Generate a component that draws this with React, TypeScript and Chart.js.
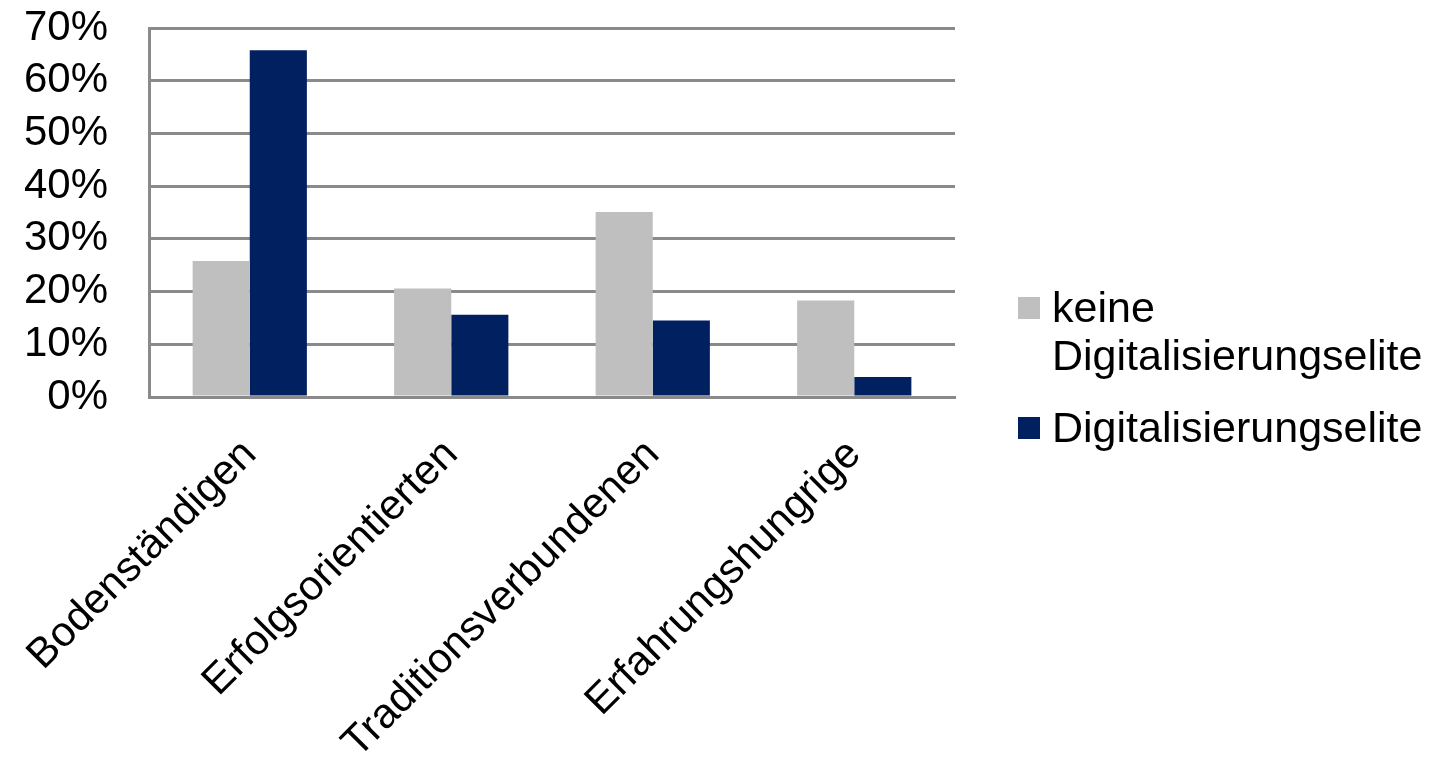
import React, { useEffect, useRef } from "react";
import { Chart, registerables } from "chart.js";

Chart.register(...registerables);

const categories = ["Bodenständigen", "Erfolgsorientierten", "Traditionsverbundenen", "Erfahrungshungrige"];
const seriesNames = ["keine Digitalisierungselite", "Digitalisierungselite"];
const keineValues = [25.8, 20.6, 35.1, 18.3];
const eliteValues = [65.8, 15.6, 14.5, 3.8];
const yMin = 0;
const yMax = 70;
const yStep = 10;

const FONT = "'Liberation Sans', Arial, sans-serif";
const W = 1437;
const H = 764;

function wrapText(ctx: CanvasRenderingContext2D, text: string, maxWidth: number): string[] {
  const words = text.split(" ");
  const lines: string[] = [];
  let cur = "";
  for (const w of words) {
    const test = cur ? cur + " " + w : w;
    if (cur && ctx.measureText(test).width > maxWidth) {
      lines.push(cur);
      cur = w;
    } else {
      cur = test;
    }
  }
  if (cur) lines.push(cur);
  return lines;
}

const sideLegend = {
  id: "sideLegend",
  afterDraw(chart: any) {
    const ctx: CanvasRenderingContext2D = chart.ctx;
    ctx.save();
    ctx.font = `43px ${FONT}`;
    ctx.textBaseline = "alphabetic";
    ctx.textAlign = "left";
    const boxX = 1018;
    const textX = 1052;
    const box = 22;
    const lineH = 48;
    let baseline = 322;
    chart.data.datasets.forEach((ds: any) => {
      const lines = wrapText(ctx, ds.label, 400);
      ctx.fillStyle = ds.backgroundColor;
      ctx.fillRect(boxX, baseline - 25, box, box);
      ctx.fillStyle = "#000";
      lines.forEach((l, i) => ctx.fillText(l, textX, baseline + i * lineH));
      baseline += (lines.length - 1) * lineH + 72;
    });
    ctx.restore();
  },
};

export default function App() {
  const ref = useRef<HTMLCanvasElement | null>(null);
  useEffect(() => {
    if (!ref.current) return;
    const chart = new Chart(ref.current, {
      type: "bar",
      data: {
        labels: categories,
        datasets: [
          {
            label: seriesNames[0],
            data: keineValues,
            backgroundColor: "#BFBFBF",
            categoryPercentage: 0.567,
            barPercentage: 1.0,
          },
          {
            label: seriesNames[1],
            data: eliteValues,
            backgroundColor: "#002060",
            categoryPercentage: 0.567,
            barPercentage: 1.0,
          },
        ],
      },
      options: {
        animation: false,
        responsive: false,
        devicePixelRatio: 1,
        layout: { padding: { left: 0, top: 28, right: 482, bottom: 0 } },
        plugins: {
          legend: { display: false },
          tooltip: { enabled: false },
          title: { display: false },
        },
        scales: {
          x: {
            grid: { display: false, drawTicks: false },
            border: { display: true, color: "#8A8A8A", width: 3 },
            ticks: {
              color: "#000",
              font: { family: FONT, size: 42 },
              minRotation: 45,
              maxRotation: 45,
              autoSkip: false,
              padding: 33,
            },
            afterFit: (scale: any) => {
              scale.height = H - 397;
              scale.paddingLeft = 0;
              scale.paddingRight = 0;
            },
          },
          y: {
            min: yMin,
            max: yMax,
            grid: { color: "#8A8A8A", lineWidth: 3, drawTicks: false },
            border: { display: true, color: "#8A8A8A", width: 3 },
            ticks: {
              stepSize: yStep,
              autoSkip: false,
              color: "#000",
              font: { family: FONT, size: 42 },
              padding: 41,
              callback: (v: any) => v + "%",
            },
            afterFit: (scale: any) => {
              scale.width = 149;
              scale.paddingTop = 0;
              scale.paddingBottom = 0;
            },
          },
        },
      },
      plugins: [sideLegend],
    });
    return () => chart.destroy();
  }, []);
  return (
    <div style={{ position: "fixed", left: 0, top: 0, width: W, height: H, background: "#fff" }}>
      <canvas ref={ref} width={W} height={H} style={{ display: "block" }} />
    </div>
  );
}
